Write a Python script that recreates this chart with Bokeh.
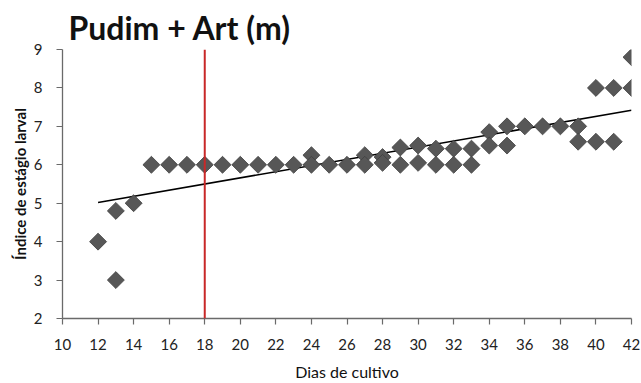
import numpy as np
from bokeh.plotting import figure
from bokeh.models import Span, FixedTicker
from bokeh.embed import file_html
from bokeh.resources import INLINE

# Data
days = [12, 13, 13, 14, 15, 16, 17, 18, 19, 20, 21, 22, 23, 24, 24, 25, 26,
        27, 27, 28, 28, 29, 29, 30, 30, 31, 31, 32, 32, 33, 33, 34, 34,
        35, 35, 36, 37, 38, 39, 39, 40, 40, 41, 41, 42, 42]
stage_index = [4.0, 4.8, 3.0, 5.0, 6.0, 6.0, 6.0, 6.0, 6.0, 6.0, 6.0, 6.0, 6.0,
               6.25, 6.0, 6.0, 6.0, 6.25, 6.0, 6.2, 6.05, 6.45, 6.0, 6.5, 6.05,
               6.42, 6.0, 6.42, 6.0, 6.42, 6.0, 6.85, 6.5, 7.0, 6.5, 7.0, 7.0,
               7.0, 7.0, 6.6, 8.0, 6.6, 8.0, 6.6, 8.8, 8.0]
trend_days = [12, 42]
trend_values = [5.02, 7.42]
marker_day = 18
x_ticks = list(range(10, 43, 2))
y_ticks = [2, 3, 4, 5, 6, 7, 8, 9]

FONT = "Lato"

p = figure(width=641, height=383, output_backend="svg", toolbar_location=None,
           x_range=(10, 42), y_range=(2, 9),
           min_border_left=62, min_border_right=10, min_border_top=49,
           min_border_bottom=60, title="Pudim + Art (m)")
p.outline_line_color = None
p.grid.visible = False
p.background_fill_color = "white"
p.border_fill_color = "white"

p.title.text_font = FONT
p.title.text_font_size = "32px"
p.title.text_font_style = "bold"
p.title.text_color = "#111111"
p.title.align = "left"
p.title.offset = 6
p.title.standoff = 5

for ax in (p.xaxis[0], p.yaxis[0]):
    ax.axis_line_color = "#6a6a6a"
    ax.axis_line_width = 1.3
    ax.major_tick_line_color = "#6a6a6a"
    ax.major_tick_line_width = 1.2
    ax.major_tick_in = 0
    ax.major_tick_out = 6
    ax.minor_tick_line_color = None
    ax.major_label_text_font = FONT
    ax.major_label_text_font_size = "15px"
    ax.major_label_text_color = "#222222"
    ax.axis_label_text_font = FONT
    ax.axis_label_text_color = "#111111"

p.xaxis.ticker = FixedTicker(ticks=x_ticks)
p.yaxis.ticker = FixedTicker(ticks=y_ticks)
p.xaxis.major_label_standoff = 14
p.yaxis.major_label_standoff = 14

p.xaxis.axis_label = "Dias de cultivo"
p.xaxis.axis_label_text_font_size = "16px"
p.xaxis.axis_label_text_font_style = "normal"
p.xaxis.axis_label_standoff = 9

p.yaxis.axis_label = "Índice de estágio larval"
p.yaxis.axis_label_text_font_size = "15px"
p.yaxis.axis_label_text_font_style = "bold"
p.yaxis.axis_label_standoff = 2

p.line(trend_days, trend_values, line_color="black", line_width=1.6)

p.scatter(days, stage_index, marker="square", size=12, angle=np.pi / 4,
          fill_color="#575757", line_color="#3f3f3f", line_width=0.8)

p.add_layout(Span(location=marker_day, dimension="height",
                  line_color="#c82828", line_width=2))

open("out.html", "w").write(file_html(p, INLINE))
